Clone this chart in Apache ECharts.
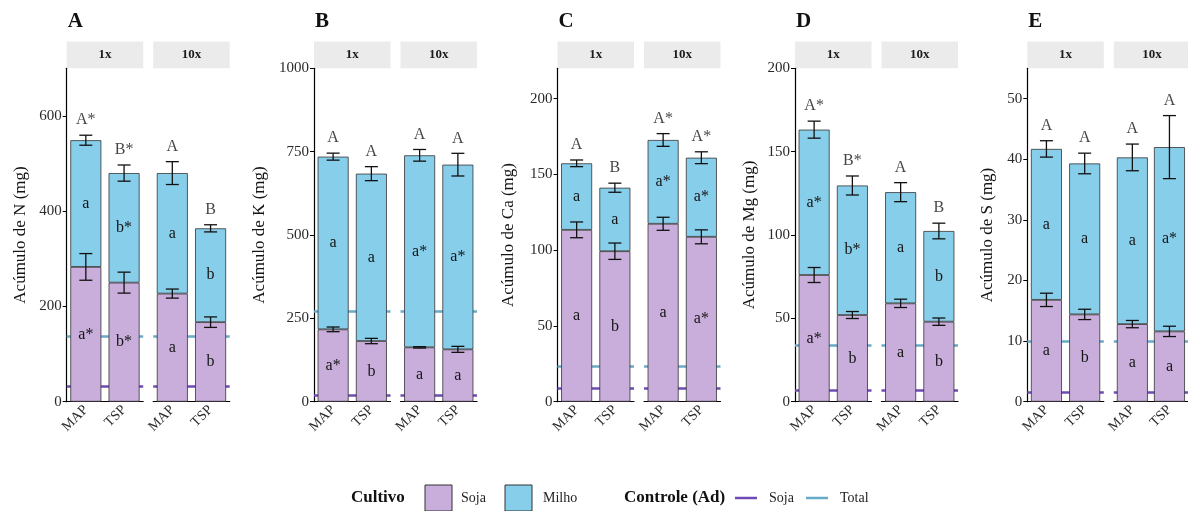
<!DOCTYPE html>
<html><head><meta charset="utf-8">
<script src="https://cdn.jsdelivr.net/npm/echarts@6/dist/echarts.min.js"></script>
<style>html,body{margin:0;padding:0;background:#fff}#c{width:1188px;height:511px}</style>
</head><body><div id="c"></div>
<script>
// ---------- DATA ----------
const panelLetters = ['A', 'B', 'C', 'D', 'E'];
const yTitles = ['Acúmulo de N (mg)', 'Acúmulo de K (mg)', 'Acúmulo de Ca (mg)', 'Acúmulo de Mg (mg)', 'Acúmulo de S (mg)'];
const doses = ['1x', '10x'];
const fontes = ['MAP', 'TSP'];
// order in each array: [1x MAP, 1x TSP, 10x MAP, 10x TSP]
const sojaN = [283, 250, 227, 167];
const milhoN = [266, 230, 253, 197];
const sojaSeN = [28, 22, 9.5, 11];
const totalSeN = [10.5, 17, 24, 7.5];
const ctrlN = [32, 137];           // Controle (Ad): soja, total
const sojaLetN = ['a*', 'b*', 'a', 'b'];
const milhoLetN = ['a', 'b*', 'a', 'b'];
const totalLetN = ['A*', 'B*', 'A', 'B'];

const sojaK = [217, 182, 163, 157];
const milhoK = [518, 502, 576, 554];
const sojaSeK = [7, 8, 2, 9];
const totalSeK = [10.5, 21, 17.5, 34];
const ctrlK = [20, 270];
const sojaLetK = ['a*', 'b', 'a', 'a'];
const milhoLetK = ['a', 'a', 'a*', 'a*'];
const totalLetK = ['A', 'A', 'A', 'A'];

const sojaCa = [113.4, 99.3, 117.4, 108.8];
const milhoCa = [43.9, 41.9, 55.3, 52.2];
const sojaSeCa = [5.2, 5.4, 4.3, 4.6];
const totalSeCa = [2.2, 3, 4.2, 3.9];
const ctrlCa = [9, 23.5];
const sojaLetCa = ['a', 'b', 'a', 'a*'];
const milhoLetCa = ['a', 'a', 'a*', 'a*'];
const totalLetCa = ['A', 'B', 'A*', 'A*'];

const sojaMg = [76, 52, 59, 48];
const milhoMg = [87.2, 77.7, 66.7, 54.4];
const sojaSeMg = [4.5, 2.1, 2.5, 2.2];
const totalSeMg = [5.1, 5.7, 5.7, 4.7];
const ctrlMg = [6.6, 34];
const sojaLetMg = ['a*', 'b', 'a', 'b'];
const milhoLetMg = ['a*', 'b*', 'a', 'b'];
const totalLetMg = ['A*', 'B*', 'A', 'B'];

const sojaS = [16.8, 14.4, 12.8, 11.6];
const milhoS = [24.9, 24.9, 27.5, 30.4];
const sojaSeS = [1.1, 0.85, 0.6, 0.85];
const totalSeS = [1.35, 1.7, 2.2, 5.2];
const ctrlS = [1.5, 10];
const sojaLetS = ['a', 'b', 'a', 'a'];
const milhoLetS = ['a', 'a', 'a', 'a*'];
const totalLetS = ['A', 'A', 'A', 'A'];

const yMaxes = [700, 1000, 220, 200, 55];
const yTicksN = [0, 200, 400, 600];
const yTicksK = [0, 250, 500, 750, 1000];
const yTicksCa = [0, 50, 100, 150, 200];
const yTicksMg = [0, 50, 100, 150, 200];
const yTicksS = [0, 10, 20, 30, 40, 50];

// ---------- BUILD ----------
const panels = [
  {soja: sojaN, milho: milhoN, sse: sojaSeN, tse: totalSeN, ctrl: ctrlN, ls: sojaLetN, lm: milhoLetN, lt: totalLetN, ticks: yTicksN},
  {soja: sojaK, milho: milhoK, sse: sojaSeK, tse: totalSeK, ctrl: ctrlK, ls: sojaLetK, lm: milhoLetK, lt: totalLetK, ticks: yTicksK},
  {soja: sojaCa, milho: milhoCa, sse: sojaSeCa, tse: totalSeCa, ctrl: ctrlCa, ls: sojaLetCa, lm: milhoLetCa, lt: totalLetCa, ticks: yTicksCa},
  {soja: sojaMg, milho: milhoMg, sse: sojaSeMg, tse: totalSeMg, ctrl: ctrlMg, ls: sojaLetMg, lm: milhoLetMg, lt: totalLetMg, ticks: yTicksMg},
  {soja: sojaS, milho: milhoS, sse: sojaSeS, tse: totalSeS, ctrl: ctrlS, ls: sojaLetS, lm: milhoLetS, lt: totalLetS, ticks: yTicksS}
];

const FONT = "'Liberation Serif', 'Times New Roman', serif";
const C_SOJA = '#C9AEDB', C_MILHO = '#87CEEB';
const C_CSOJA = '#6E4BB5', C_CTOTAL = '#6AAAC9';
const panelX = [66.7, 314, 557.5, 795, 1027.3];
const nameGaps = [38, 46, 40, 37, 31];
const facetW = 76.5, facetGap = 10;
const plotTop = 68.3, plotH = 333.4;
const stripTop = 41.5;
const TXT = '#141414';

const grids = [], xAxes = [], yAxes = [], series = [], graphics = [];

panels.forEach((P, pi) => {
  graphics.push({type: 'text', left: panelX[pi] + 1, top: 11,
    style: {text: panelLetters[pi], font: "bold 21px " + FONT, fill: '#111'}});
  doses.forEach((dose, f) => {
    const g = pi * 2 + f;
    const x0 = panelX[pi] + f * (facetW + facetGap);
    grids.push({left: x0, top: plotTop, width: facetW, height: plotH});
    graphics.push({type: 'rect', shape: {x: x0, y: stripTop, width: facetW, height: plotTop - stripTop},
      style: {fill: '#EBEBEB'}, z: 0});
    graphics.push({type: 'text', x: x0 + facetW / 2, y: stripTop + (plotTop - stripTop) / 2,
      style: {text: dose, font: "bold 13px " + FONT, fill: '#1a1a1a', align: 'center', verticalAlign: 'middle'}, z: 1});
    xAxes.push({gridIndex: g, type: 'category', data: fontes,
      axisLine: {lineStyle: {color: '#000', width: 1.2}},
      axisTick: {alignWithLabel: true, length: 4, lineStyle: {color: '#000', width: 1}},
      axisLabel: {rotate: 45, fontFamily: FONT, fontSize: 14, color: '#2a2a2a', margin: 6}});
    yAxes.push({gridIndex: g, type: 'value', min: 0, max: yMaxes[pi],
      axisLine: {show: f === 0, onZero: false, lineStyle: {color: '#000', width: 1.2}},
      axisTick: {show: f === 0, customValues: P.ticks, length: 4, lineStyle: {color: '#000'}},
      axisLabel: {show: f === 0, customValues: P.ticks, fontFamily: FONT, fontSize: 15, color: '#2a2a2a', margin: 5,
        formatter: v => String(v)},
      splitLine: {show: false},
      name: f === 0 ? yTitles[pi] : '', nameLocation: 'middle', nameGap: nameGaps[pi],
      nameTextStyle: {fontFamily: FONT, fontSize: 17, color: TXT}});
    const idx = [2 * f, 2 * f + 1];
    // control lines (behind bars)
    series.push({type: 'line', xAxisIndex: g, yAxisIndex: g, data: [], z: 1, silent: true,
      markLine: {symbol: 'none', silent: true, z: 1, label: {show: false}, animation: false,
        data: [
          {yAxis: P.ctrl[1], lineStyle: {color: C_CTOTAL, width: 2.5, type: 'solid'}},
          {yAxis: P.ctrl[0], lineStyle: {color: C_CSOJA, width: 2.5, type: 'solid'}}
        ]}});
    const lblBase = {show: true, position: 'inside', fontFamily: FONT, fontSize: 16, color: TXT};
    series.push({type: 'bar', name: 'Soja', xAxisIndex: g, yAxisIndex: g, stack: 'st' + g, barWidth: 31, z: 3,
      data: idx.map(i => P.soja[i]),
      itemStyle: {color: C_SOJA, borderColor: '#333', borderWidth: 0.8},
      label: Object.assign({}, lblBase, {formatter: p => P.ls[idx[p.dataIndex]]})});
    series.push({type: 'bar', name: 'Milho', xAxisIndex: g, yAxisIndex: g, stack: 'st' + g, barWidth: 31, z: 3,
      data: idx.map(i => P.milho[i]),
      itemStyle: {color: C_MILHO, borderColor: '#333', borderWidth: 0.8},
      label: Object.assign({}, lblBase, {formatter: p => P.lm[idx[p.dataIndex]]})});
    // error bars
    const eb = [];
    idx.forEach((i, k) => {
      eb.push([k, P.soja[i] - P.sse[i], P.soja[i] + P.sse[i]]);
      const tot = P.soja[i] + P.milho[i];
      eb.push([k, tot - P.tse[i], tot + P.tse[i]]);
    });
    series.push({type: 'custom', xAxisIndex: g, yAxisIndex: g, z: 6, silent: true, data: eb,
      encode: {x: 0, y: [1, 2]},
      renderItem: (params, api) => {
        const a = api.coord([api.value(0), api.value(1)]);
        const b = api.coord([api.value(0), api.value(2)]);
        const w = 6.5, st = {stroke: '#111', lineWidth: 1.3};
        return {type: 'group', children: [
          {type: 'line', shape: {x1: a[0], y1: a[1], x2: b[0], y2: b[1]}, style: st},
          {type: 'line', shape: {x1: a[0] - w, y1: a[1], x2: a[0] + w, y2: a[1]}, style: st},
          {type: 'line', shape: {x1: b[0] - w, y1: b[1], x2: b[0] + w, y2: b[1]}, style: st}
        ]};
      }});
    // letters above bars
    series.push({type: 'scatter', xAxisIndex: g, yAxisIndex: g, z: 7, silent: true, symbolSize: 0,
      data: idx.map((i, k) => [k, P.soja[i] + P.milho[i] + P.tse[i]]),
      label: {show: true, position: 'top', distance: 7, fontFamily: FONT, fontSize: 16, color: TXT,
        formatter: p => P.lt[idx[p.dataIndex]]}});
  });
});

// legend (drawn)
const ly = 498;
graphics.push({type: 'text', x: 351, y: ly, style: {text: 'Cultivo', font: "bold 17px " + FONT, fill: '#111', verticalAlign: 'middle'}});
graphics.push({type: 'rect', shape: {x: 425, y: 485, width: 27, height: 26}, style: {fill: C_SOJA, stroke: '#333', lineWidth: 1}});
graphics.push({type: 'text', x: 461, y: ly, style: {text: 'Soja', font: "14px " + FONT, fill: '#222', verticalAlign: 'middle'}});
graphics.push({type: 'rect', shape: {x: 505, y: 485, width: 27, height: 26}, style: {fill: C_MILHO, stroke: '#333', lineWidth: 1}});
graphics.push({type: 'text', x: 543, y: ly, style: {text: 'Milho', font: "14px " + FONT, fill: '#222', verticalAlign: 'middle'}});
graphics.push({type: 'text', x: 624, y: ly, style: {text: 'Controle (Ad)', font: "bold 17px " + FONT, fill: '#111', verticalAlign: 'middle'}});
graphics.push({type: 'line', shape: {x1: 735, y1: ly, x2: 757, y2: ly}, style: {stroke: C_CSOJA, lineWidth: 2.5}});
graphics.push({type: 'text', x: 769, y: ly, style: {text: 'Soja', font: "14px " + FONT, fill: '#222', verticalAlign: 'middle'}});
graphics.push({type: 'line', shape: {x1: 806, y1: ly, x2: 828, y2: ly}, style: {stroke: C_CTOTAL, lineWidth: 2.5}});
graphics.push({type: 'text', x: 840, y: ly, style: {text: 'Total', font: "14px " + FONT, fill: '#222', verticalAlign: 'middle'}});

const chart = echarts.init(document.getElementById('c'), null, {renderer: 'canvas'});
chart.setOption({
  animation: false,
  backgroundColor: '#fff',
  grid: grids, xAxis: xAxes, yAxis: yAxes, series: series, graphic: graphics
});
</script></body></html>
